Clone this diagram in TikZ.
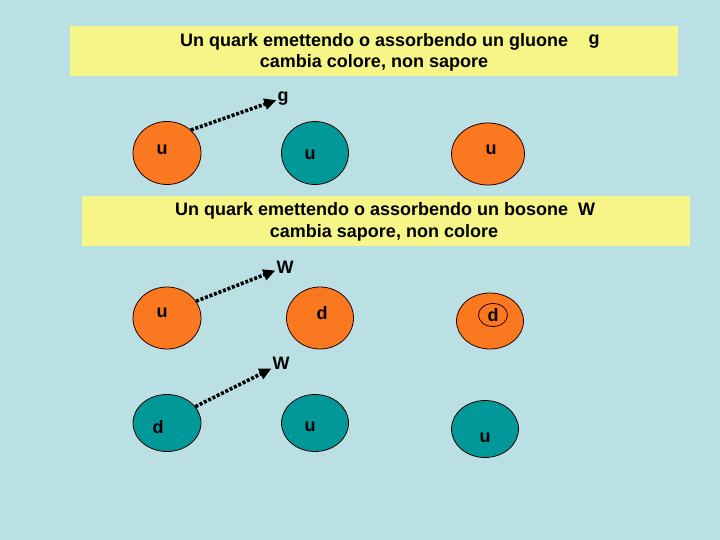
\documentclass[tikz,border=0pt]{standalone}
\usepackage{fontspec}
\setmainfont{Liberation Sans}
\usepackage{xcolor}
\usepackage{tikz}
\usetikzlibrary{arrows.meta, positioning, shapes.geometric}

\definecolor{bgblue}{RGB}{187,224,227}
\definecolor{banneryellow}{RGB}{246,246,136}
\definecolor{quarkorange}{RGB}{250,120,32}
\definecolor{quarkteal}{RGB}{0,152,152}

\begin{document}
\begin{tikzpicture}[
    x=1pt, y=-1pt,
    font=\bfseries\fontsize{18}{21}\selectfont,
    banner/.style={
        rectangle,
        fill=banneryellow,
        minimum width=608pt,
        minimum height=50pt,
        inner sep=0pt
    },
    quark/.style={
        ellipse,
        draw=black!85!red,
        line width=0.8pt,
        inner sep=0pt
    },
    red quark/.style={quark, fill=quarkorange},
    teal quark/.style={quark, fill=quarkteal},
    ring/.style={
        ellipse,
        draw=black!85!red,
        line width=0.8pt,
        minimum width=29pt,
        minimum height=23pt,
        inner sep=0pt
    },
    boson/.style={
        inner sep=1pt
    },
    arrow/.style={
        -{Triangle[length=12pt,width=11pt]},
        line width=3.6pt,
        dash pattern=on 3pt off 1.8pt,
        color=black
    }
]

% background
\fill[bgblue] (0,0) rectangle (720,540);
\useasboundingbox (0,0) rectangle (720,540);

% gluone
\node[banner] (box1) at (374,51) {};
\node[anchor=west, inner sep=0pt] (line1a) at (180,42) {Un quark emettendo o assorbendo un gluone};
\node[inner sep=0pt] (line1g) at (594,42) {g};
\node[inner sep=0pt] (line1b) at (374,63) {cambia colore, non sapore};

\node[red quark, minimum width=68pt, minimum height=63pt,
      label={[shift={(-5,-3)}]center:u}] (u1) at (167,153) {};
\node[teal quark, minimum width=67pt, minimum height=63pt,
      label={[shift={(-5,2)}]center:u}] (u2) at (315,153) {};
\node[red quark, minimum width=73pt, minimum height=62pt,
      label={[shift={(3,-4)}]center:u}] (u3) at (488,154) {};
\node[boson] (g) at (283,99) {g};
\draw[arrow] (u1.44) -- (g.190);

% bosone W
\node[banner] (box2) at (386,221) {};
\node[anchor=west, inner sep=0pt] (line2a) at (175,211) {Un quark emettendo o assorbendo un bosone\ \ W};
\node[inner sep=0pt] (line2b) at (384,233) {cambia sapore, non colore};

\node[red quark, minimum width=68pt, minimum height=62pt,
      label={[shift={(-5,-5)}]center:u}] (u4) at (167,318) {};
\node[red quark, minimum width=67pt, minimum height=62pt,
      label={[shift={(2,-5)}]center:d}] (d1) at (320,318) {};
\node[red quark, minimum width=67pt, minimum height=56pt] (d2) at (490,321) {};
\node[ring] (d2in) at (493,315) {d};
\node[boson] (w1) at (285,267) {W};
\draw[arrow] (u4.30) -- (w1.200);

\node[teal quark, minimum width=68pt, minimum height=57pt,
      label={[shift={(-9,4)}]center:d}] (d3) at (167,423) {};
\node[teal quark, minimum width=67pt, minimum height=57pt,
      label={[shift={(-5,4)}]center:u}] (u5) at (315,423) {};
\node[teal quark, minimum width=67pt, minimum height=57pt,
      label={[shift={(0,9)}]center:u}] (u6) at (485,429) {};
\node[boson] (w2) at (281,363) {W};
\draw[arrow] (d3.30) -- (w2.210);

\end{tikzpicture}
\end{document}
